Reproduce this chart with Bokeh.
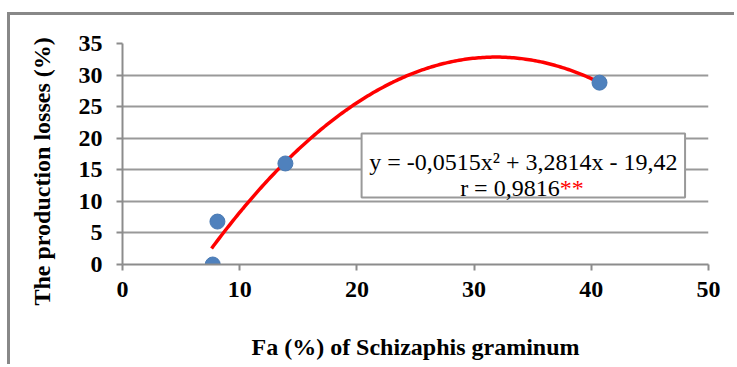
import numpy as np
from bokeh.plotting import figure
from bokeh.models import Range1d, FixedTicker, Title
from bokeh.core.properties import value
from bokeh.embed import file_html
from bokeh.resources import INLINE

# ---- data ----
fa = [7.7, 8.1, 13.9, 40.7]          # Fa (%) of Schizaphis graminum
losses = [0.0, 6.8, 16.0, 28.8]      # production losses (%)
coef = [-0.0515, 3.2814, -19.42]     # quadratic trend line coefficients
fit_span = [7.6, 40.7]
x_ticks = [0, 10, 20, 30, 40, 50]
y_ticks = [0, 5, 10, 15, 20, 25, 30, 35]
eq_text = "y = -0,0515x\u00b2 + 3,2814x - 19,42"
r_text = "r = 0,9816"
sig_text = "**"
x_title = "Fa (%) of Schizaphis graminum"
y_title = "The production losses (%)"

FONT = "Liberation Serif"

xs = np.linspace(fit_span[0], fit_span[1], 200)
ys = np.polyval(coef, xs)

# canvas placed inside a grey frame line (top/left visible)
p = figure(width=727, height=352, output_backend="svg", toolbar_location=None,
           x_range=Range1d(0, 50), y_range=Range1d(0, 35),
           min_border_left=112, min_border_right=29, min_border_top=28, min_border_bottom=103)
p.margin = (12, 0, 0, 7)
p.styles = {"border-top": "3px solid #888888", "border-left": "3px solid #888888"}
p.outline_line_color = None
p.background_fill_color = "white"
p.border_fill_color = "white"

# axes
for ax in (p.xaxis[0], p.yaxis[0]):
    ax.axis_line_color = "#8c8c8c"
    ax.axis_line_width = 2
    ax.major_tick_line_color = "#8c8c8c"
    ax.major_tick_line_width = 2
    ax.major_tick_out = 6
    ax.major_tick_in = 0
    ax.minor_tick_line_color = None
    ax.major_label_text_font = FONT
    ax.major_label_text_font_style = "bold"
    ax.major_label_text_font_size = "24px"
    ax.major_label_text_color = "black"
    ax.axis_label_text_font = FONT
    ax.axis_label_text_font_style = "bold"
    ax.axis_label_text_font_size = "24px"
    ax.axis_label_text_color = "black"

p.xaxis.ticker = FixedTicker(ticks=x_ticks)
p.yaxis.ticker = FixedTicker(ticks=y_ticks)
p.xaxis.major_label_standoff = 11
p.yaxis.major_label_standoff = 14
p.xaxis.axis_label = x_title
p.xaxis.axis_label_standoff = 34

# y title as a side title, started a little below the plot bottom like the original
p.add_layout(Title(text=y_title, align="left", vertical_align="top", offset=-41, standoff=37,
                   text_font=FONT, text_font_style="bold", text_font_size="24px",
                   text_color="black"), "left")

p.xgrid.grid_line_color = None
p.ygrid.grid_line_color = "#999999"
p.ygrid.grid_line_width = 2

# trend line and points
p.line(xs, ys, line_color="#ff0000", line_width=3.5)
p.scatter(fa, losses, size=15, fill_color="#4f81bd", line_color="#4a7ab3", line_width=1)

# equation box
p.quad(left=[20.4], right=[48.0], top=[20.75], bottom=[10.6],
       fill_color="white", line_color="#999999", line_width=2)
p.text(x=[34.2], y=[16.3], text=[eq_text], text_font=value(FONT), text_font_size="24px",
       text_align="center", text_baseline="alphabetic", text_color="black")
p.text(x=[37.3], y=[12.05], text=[r_text], text_font=value(FONT), text_font_size="24px",
       text_align="right", text_baseline="alphabetic", text_color="black")
p.text(x=[37.3], y=[12.05], text=[sig_text], text_font=value(FONT), text_font_size="24px",
       text_align="left", text_baseline="alphabetic", text_color="#ff0000")

open("out.html", "w").write(file_html(p, INLINE))
